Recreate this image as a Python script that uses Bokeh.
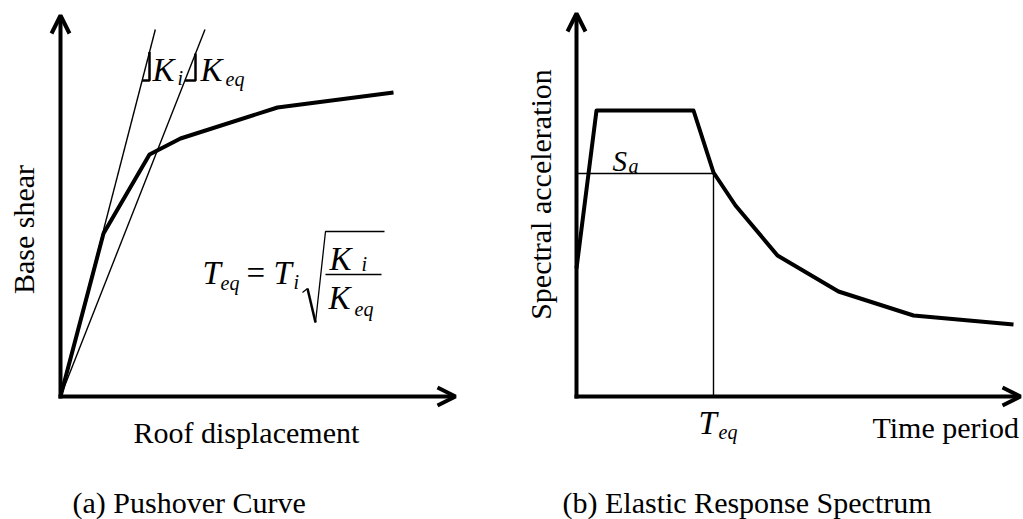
import math
from bokeh.plotting import figure
from bokeh.layouts import row
from bokeh.models import Arrow, OpenHead, Range1d
from bokeh.core.properties import value
from bokeh.embed import file_html
from bokeh.resources import INLINE

# ---------------- data (schematic units) ----------------
# (a) Pushover curve
roof_disp = [0.0, 0.43, 0.89, 1.20, 2.17, 3.33]
base_shear = [0.0, 1.63, 2.42, 2.58, 2.89, 3.04]
K_i = 3.87          # initial stiffness (slope)
K_eq = 2.54         # equivalent stiffness (slope)
stiff_top = 3.67    # height where stiffness lines end
tri_base = 3.16     # base height of the slope triangles
tri_leg_i = 0.89    # x of vertical leg, K_i triangle
tri_leg_eq = 1.35   # x of vertical leg, K_eq triangle

# (b) Elastic response spectrum
period = [0.0, 0.20, 1.17, 1.37, 1.59, 2.01, 2.62, 3.37, 4.37]
spec_acc = [1.28, 2.86, 2.86, 2.24, 1.91, 1.41, 1.05, 0.81, 0.72]
T_eq = 1.37
S_a = 2.23

FONT = value("Liberation Serif")
BLACK = "#000000"
PX = 0.01            # data units per screen pixel (both axes)
BASE_FIX = 0.33      # baseline correction, fraction of font size
MATH = 33            # size of math symbols
SUB = 20             # size of subscripts


def make_fig(width, x0, x1):
    p = figure(width=width, height=519, x_range=Range1d(x0, x1),
               y_range=Range1d(-1.23, 3.96), output_backend="svg",
               toolbar_location=None, min_border=0)
    p.axis.visible = False
    p.grid.visible = False
    p.outline_line_color = None
    p.background_fill_color = "white"
    p.border_fill_color = "white"
    return p


def label(p, x, y, text, size=30, style="normal", align="left", rotated=False):
    shift = BASE_FIX * size * PX
    if rotated:
        x, angle = x - shift, math.pi / 2
    else:
        y, angle = y + shift, 0.0
    p.text(x=[x], y=[y], text=[text], text_font=FONT, text_font_size=f"{size}px",
           text_font_style=style, text_align=align, text_baseline="alphabetic",
           text_color=BLACK, angle=angle)


def axes_arrows(p, xend, yend):
    p.add_layout(Arrow(end=OpenHead(size=18, line_width=4, line_color=BLACK),
                       x_start=0, y_start=-0.02, x_end=0, y_end=yend,
                       line_width=4, line_color=BLACK))
    p.add_layout(Arrow(end=OpenHead(size=18, line_width=4, line_color=BLACK),
                       x_start=-0.02, y_start=0, x_end=xend, y_end=0,
                       line_width=4, line_color=BLACK))


# ---------------- (a) ----------------
pa = make_fig(511, -0.60, 4.51)
axes_arrows(pa, 3.95, 3.81)

pa.line([0, stiff_top / K_i], [0, stiff_top], line_width=1.4, line_color=BLACK)
pa.line([0, stiff_top / K_eq], [0, stiff_top], line_width=1.4, line_color=BLACK)
for k, xl in ((K_i, tri_leg_i), (K_eq, tri_leg_eq)):
    pa.line([tri_base / k, xl, xl], [tri_base, tri_base, xl * k],
            line_width=2.5, line_color=BLACK)
pa.line(roof_disp, base_shear, line_width=4, line_color=BLACK, line_join="round")

label(pa, 0.92, 3.16, "K", size=MATH, style="italic")
label(pa, 1.17, 3.12, "i", size=SUB, style="italic")
label(pa, 1.40, 3.16, "K", size=MATH, style="italic")
label(pa, 1.65, 3.11, "eq", size=SUB, style="italic")

# formula T_eq = T_i sqrt(K_i / K_eq)
label(pa, 1.42, 1.13, "T", size=MATH, style="italic")
label(pa, 1.60, 1.07, "eq", size=SUB, style="italic")
label(pa, 1.86, 1.13, "=", size=MATH)
label(pa, 2.13, 1.13, "T", size=MATH, style="italic")
label(pa, 2.33, 1.08, "i", size=SUB, style="italic")
label(pa, 2.69, 1.27, "K", size=MATH, style="italic")
label(pa, 3.01, 1.26, "i", size=SUB, style="italic")
label(pa, 2.68, 0.88, "K", size=MATH, style="italic")
label(pa, 2.94, 0.81, "eq", size=SUB, style="italic")
pa.line([2.42, 2.47], [1.04, 1.08], line_width=1.3, line_color=BLACK)
pa.line([2.47, 2.55], [1.08, 0.74], line_width=2.5, line_color=BLACK)
pa.line([2.55, 2.65, 3.24], [0.74, 1.65, 1.65], line_width=1.3, line_color=BLACK)
pa.line([2.65, 3.21], [1.22, 1.22], line_width=1.3, line_color=BLACK)

label(pa, -0.27, 1.67, "Base shear", align="center", rotated=True)
label(pa, 0.73, -0.46, "Roof displacement")
label(pa, 0.12, -1.16, "(a) Pushover Curve")

# ---------------- (b) ----------------
pb = make_fig(512, -0.65, 4.47)
axes_arrows(pb, 4.44, 3.83)

pb.line([0, T_eq, T_eq], [S_a, S_a, 0], line_width=1.4, line_color=BLACK)
pb.line(period, spec_acc, line_width=4, line_color=BLACK, line_join="round")

label(pb, 0.36, 2.26, "S", size=29, style="italic")
label(pb, 0.52, 2.24, "a", size=SUB, style="italic")
label(pb, 1.22, -0.37, "T", size=MATH, style="italic")
label(pb, 1.42, -0.42, "eq", size=SUB, style="italic")
label(pb, -0.26, 2.02, "Spectral acceleration", align="center", rotated=True)
label(pb, 2.96, -0.41, "Time period")
label(pb, -0.14, -1.16, "(b) Elastic Response Spectrum")

layout = row(pa, pb)
open("out.html", "w").write(file_html(layout, INLINE))
